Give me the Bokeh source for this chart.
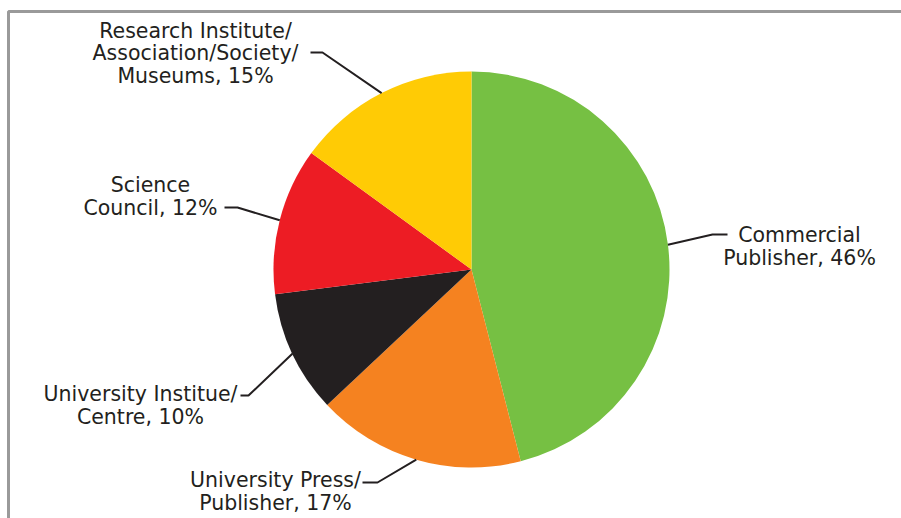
import math
from bokeh.plotting import figure
from bokeh.models import Range1d, ColumnDataSource
from bokeh.core.properties import value
from bokeh.embed import file_html
from bokeh.resources import INLINE

# ---- data ----
categories = ["Commercial\nPublisher", "University Press/\nPublisher",
              "University Institue/\nCentre", "Science\nCouncil",
              "Research Institute/\nAssociation/Society/\nMuseums"]
shares = [46, 17, 10, 12, 15]
colors = ["#76C043", "#F58220", "#231F20", "#ED1C24", "#FFCB05"]

# ---- layout (image-pixel coordinates; y data = -pixel y) ----
W, H = 901, 518
cx, cy, R = 471, -269, 198
# label block centres and elbow points of the leader lines
label_pos = [(799, -246), (275, -491), (140, -405), (150, -196), (195, -53)]
elbow_end = [(727, -234), (362, -482), (240, -395), (224, -207), (310, -52)]
elbow = [(712, -234), (377, -482), (248, -395), (237, -207), (322, -52)]

p = figure(width=W, height=H, x_range=Range1d(0, W), y_range=Range1d(-H, 0),
           output_backend="svg", toolbar_location=None, min_border=0)
p.axis.visible = False
p.grid.visible = False
p.outline_line_color = None
p.background_fill_color = "white"
p.border_fill_color = "white"

total = sum(shares)
starts, ends, mids = [], [], []
cum = 0.0
for s in shares:
    a0 = math.pi / 2 - 2 * math.pi * cum / total
    cum += s
    a1 = math.pi / 2 - 2 * math.pi * cum / total
    starts.append(a0)
    ends.append(a1)
    mids.append((a0 + a1) / 2)

src = ColumnDataSource(dict(x=[cx] * len(shares), y=[cy] * len(shares),
                            start=starts, end=ends, color=colors))
p.wedge(x="x", y="y", radius=R, start_angle="start", end_angle="end",
        direction="clock", fill_color="color", line_color=None, source=src)

# leader lines
xs, ys = [], []
for m, e, k in zip(mids, elbow, elbow_end):
    ex = cx + R * math.cos(m)
    ey = cy + R * math.sin(m)
    xs.append([ex, e[0], k[0]])
    ys.append([ey, e[1], k[1]])
p.multi_line(xs, ys, line_color="#231F20", line_width=2)

# labels
labels = [f"{c}, {s}%" for c, s in zip(categories, shares)]
p.text(x=[lp[0] for lp in label_pos], y=[lp[1] for lp in label_pos], text=labels,
       text_font=value("DejaVu Sans"), text_font_size="20.5px", text_color="#231F20",
       text_align="center", text_baseline="middle", text_line_height=0.92)

# frame (top and left edge)
p.line([8, 8, W], [-H, -11, -11], line_color="#9A9A9A", line_width=3)

open("out.html", "w").write(file_html(p, INLINE))
